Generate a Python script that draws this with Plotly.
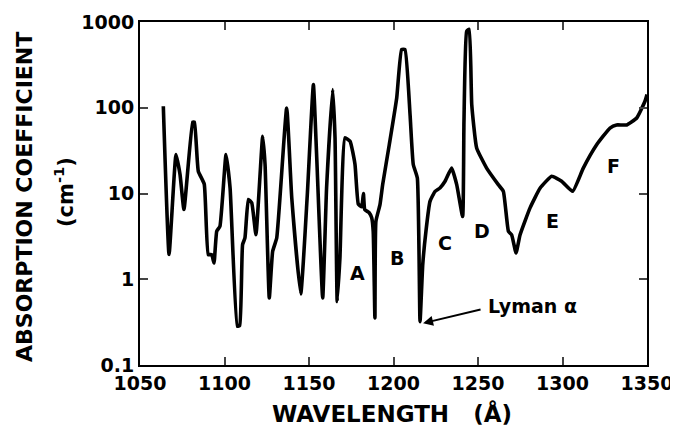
import plotly.graph_objects as go
import math

wavelength = [1063.8, 1067.2, 1071.3, 1073.7, 1076.0, 1081.2, 1082.2, 1084.5, 1088.0, 1090.4,
              1092.4, 1093.8, 1095.4, 1097.3, 1100.9, 1103.3, 1107.6, 1109.0, 1110.7, 1112.1,
              1114.1, 1116.1, 1118.6, 1122.6, 1124.0, 1126.5, 1128.5, 1130.9, 1136.8, 1139.8,
              1145.1, 1149.0, 1152.6, 1154.5, 1158.1, 1160.4, 1164.0, 1165.4, 1166.7, 1168.3,
              1171.3, 1174.3, 1177.2, 1179.2, 1181.2, 1182.2, 1183.0, 1185.5, 1187.1, 1188.0,
              1189.0, 1189.6, 1192.0, 1193.6, 1197.5, 1201.9, 1204.8, 1206.8, 1209.8, 1211.7,
              1214.1, 1215.7, 1217.3, 1219.2, 1221.6, 1224.6, 1227.5, 1230.5, 1234.4, 1237.4,
              1240.9, 1241.7, 1243.3, 1244.8, 1246.3, 1249.2, 1255.1, 1262.0, 1265.0, 1268.0,
              1269.9, 1272.5, 1274.9, 1280.8, 1286.7, 1293.6, 1299.5, 1306.0, 1312.3, 1320.2,
              1328.1, 1332.0, 1338.0, 1343.9, 1348.8, 1350.0]
absorption = [104, 1.94, 28.4, 16.6, 6.5, 68, 68, 18.2, 12.9, 1.94,
              1.94, 1.55, 3.63, 4.15, 28.4, 11.6, 0.283, 0.29, 2.54, 3.03,
              8.5, 7.8, 3.3, 46.5, 21.8, 0.605, 2.12, 3.03, 99.5, 8.9,
              0.675, 9.7, 186, 28.4, 0.605, 11.6, 163, 44.5, 0.55, 1.77,
              44.5, 40.7, 22, 7.5, 7.0, 10.0, 6.5, 6.0, 5.2, 3.6,
              0.354, 4.75, 7.4, 12.7, 37, 130, 477, 477, 83, 21.8,
              15.2, 0.32, 1.48, 3.63, 8.1, 10.6, 11.6, 13.9, 19.8, 12.7,
              5.4, 69.6, 780, 820, 109, 34, 19.8, 12.7, 10.6, 3.63,
              3.3, 2.03, 3.3, 6.8, 11.5, 15.9, 13.9, 10.6, 19.8, 37,
              58, 63, 63, 76, 119, 143]

x_ticks = [1050, 1100, 1150, 1200, 1250, 1300, 1350]
y_ticks = [0.1, 1, 10, 100, 1000]
y_tick_labels = ["0.1", "1", "10", "100", "1000"]

band_labels = ["A", "B", "C", "D", "E", "F"]
band_x = [1178.4, 1202.1, 1230.5, 1252.4, 1293.8, 1329.9]
band_y = [1.17, 1.76, 2.63, 3.63, 4.8, 20.8]

FONT = "DejaVu Sans"
BOLD = dict(family=FONT, color="black", weight="bold")

# plot area in page pixels (page has 8px body margin)
PL, PR, PT, PB = 140, 647, 22, 365
W, H = 670, 425


def px_x(px):
    return (px - PL) / (PR - PL)


def px_y(py):
    return (PB - py) / (PB - PT)


fig = go.Figure()
fig.add_trace(go.Scatter(x=wavelength, y=absorption, mode="lines",
                         line=dict(color="black", width=3.6, shape="spline", smoothing=0.4),
                         showlegend=False, hoverinfo="skip"))

for t, bx, by in zip(band_labels, band_x, band_y):
    fig.add_annotation(x=bx, y=math.log10(by), text=t, showarrow=False,
                       font=dict(**BOLD, size=19))

fig.add_annotation(x=1282, y=math.log10(0.485), text="Lyman α", showarrow=False,
                   font=dict(**BOLD, size=19))
fig.add_annotation(x=1217.5, y=math.log10(0.307), ax=1252.4, ay=math.log10(0.447),
                   axref="x", ayref="y", text="", showarrow=True,
                   arrowhead=2, arrowsize=1, arrowwidth=2, arrowcolor="black")

# axis titles
fig.add_annotation(xref="paper", yref="paper", x=px_x(24), y=px_y(197),
                   xanchor="center", yanchor="middle",
                   text="ABSORPTION COEFFICIENT", textangle=-90, showarrow=False,
                   font=dict(**BOLD, size=22))
fig.add_annotation(xref="paper", yref="paper", x=px_x(64), y=px_y(192),
                   xanchor="center", yanchor="middle",
                   text="(cm<sup>-1</sup>)", textangle=-90, showarrow=False,
                   font=dict(**BOLD, size=21))
fig.add_annotation(xref="paper", yref="paper", x=px_x(392), y=px_y(413),
                   xanchor="center", yanchor="middle",
                   text="WAVELENGTH   (Å)", showarrow=False,
                   font=dict(**BOLD, size=23))

fig.update_layout(
    width=W, height=H,
    margin=dict(l=PL - 8, r=W - (PR - 8), t=PT - 8, b=H - (PB - 8), autoexpand=False),
    paper_bgcolor="white", plot_bgcolor="white",
    font=dict(family=FONT, color="black"),
    xaxis=dict(range=[1050, 1350], tickvals=x_ticks, ticks="inside", ticklen=8,
               tickwidth=2, showline=True, linewidth=2, linecolor="black", mirror="ticks",
               showgrid=False, zeroline=False, ticklabeloverflow="allow", automargin=False,
               tickfont=dict(**BOLD, size=19)),
    yaxis=dict(type="log", range=[-1, 3], tickvals=y_ticks, ticktext=y_tick_labels,
               ticks="inside", ticklen=8, tickwidth=2, showline=True, linewidth=2,
               linecolor="black", mirror="ticks", showgrid=False, zeroline=False,
               automargin=False, ticklabeloverflow="allow",
               tickfont=dict(**BOLD, size=19)),
)

fig.write_html("out.html")
